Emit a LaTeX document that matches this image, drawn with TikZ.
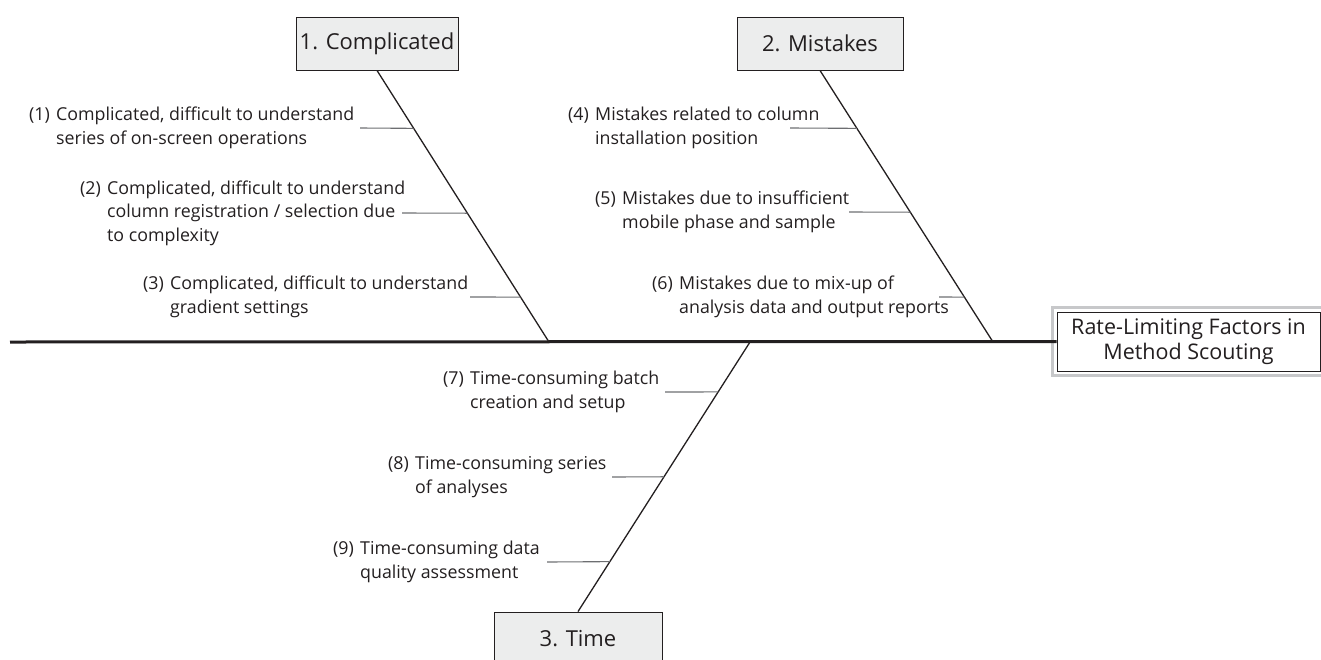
\documentclass[tikz,border=0pt]{standalone}
\usepackage{fontspec}
\setmainfont{Open Sans}
\usetikzlibrary{calc}
\definecolor{ink}{HTML}{231F20}
\definecolor{boxfill}{HTML}{ECEDED}
\definecolor{tickgray}{HTML}{6D6E71}
\definecolor{framegray}{HTML}{C7C8CA}
\newcommand{\hangtab}[2]{\begin{tabular}{@{}l@{}l@{}}\makebox[27pt][l]{#1} & #2\end{tabular}}
\begin{document}
\begin{tikzpicture}[x=1pt,y=-1pt,
  catbox/.style={draw=ink, fill=boxfill, line width=0.9pt, text=ink, inner sep=0pt,
    font=\fontsize{22}{26}\selectfont},
  mainbox/.style={draw=ink, fill=white, line width=0.9pt, text=ink, inner sep=0pt, align=center,
    font=\fontsize{21.5}{25}\selectfont},
  lbl/.style={anchor=west, inner sep=0pt, text=ink, font=\fontsize{17.8}{23.5}\selectfont},
  bone/.style={draw=ink, line width=1.3pt},
  tick/.style={draw=tickgray, line width=1.1pt},
  spine/.style={draw=ink, line width=3pt}]
\useasboundingbox (0,0) rectangle (1321,659);

% main box with grey frame
\node[mainbox, minimum width=263pt, minimum height=59pt] (m) at (1188.5,341.5)
  {Rate-Limiting Factors in\\Method Scouting};
\draw[framegray, line width=2.5pt] ($(m.south west)+(-4,4)$) rectangle ($(m.north east)+(4,-4)$);
\node[mainbox, minimum width=263pt, minimum height=59pt] at (m.center)
  {Rate-Limiting Factors in\\Method Scouting};

% spine
\coordinate (s0) at (10,342);
\draw[spine] (s0) -- (m.west);

% category boxes
\node[catbox, minimum width=162pt, minimum height=53pt] (c1) at (377,43.5) {1. Complicated};
\node[catbox, minimum width=166pt, minimum height=53pt] (c2) at (820,43.5) {2. Mistakes};
\node[catbox, minimum width=168pt, minimum height=54pt] (c3) at (578,639) {3. Time};

% junctions on spine
\coordinate (j1) at (549,342);
\coordinate (j2) at (993,342);
\coordinate (j3) at (750,342);

\draw[bone] (c1.south) -- (j1);
\draw[bone] (c2.south) -- (j2);
\draw[bone] (c3.north) -- (j3);

% tick end points on the bones
\coordinate (e1) at ($(c1.south)!0.2132!(j1)$);
\coordinate (e2) at ($(c1.south)!0.5257!(j1)$);
\coordinate (e3) at ($(c1.south)!0.8346!(j1)$);
\coordinate (e4) at ($(c2.south)!0.2132!(j2)$);
\coordinate (e5) at ($(c2.south)!0.5220!(j2)$);
\coordinate (e6) at ($(c2.south)!0.8346!(j2)$);
\coordinate (e7) at ($(c3.north)!0.8148!(j3)$);
\coordinate (e8) at ($(c3.north)!0.5000!(j3)$);
\coordinate (e9) at ($(c3.north)!0.1852!(j3)$);

% tick start points
\coordinate (t1) at (360,128);
\coordinate (t2) at (402,213);
\coordinate (t3) at (470,297);
\coordinate (t4) at (790,128);
\coordinate (t5) at (849,212);
\coordinate (t6) at (939,297);
\coordinate (t7) at (665,392);
\coordinate (t8) at (612,477);
\coordinate (t9) at (547,562);

\foreach \i in {1,...,9} {\draw[tick] (t\i) -- (e\i);}

% labels
\node[lbl] (l1) at (29,128) {\hangtab{(1)}{Complicated, difficult to understand\\ & series of on-screen operations}};
\node[lbl] (l2) at (80,213) {\hangtab{(2)}{Complicated, difficult to understand\\ & column registration / selection due\\ & to complexity}};
\node[lbl] (l3) at (143,297) {\hangtab{(3)}{Complicated, difficult to understand\\ & gradient settings}};
\node[lbl] (l4) at (568,128) {\hangtab{(4)}{Mistakes related to column\\ & installation position}};
\node[lbl] (l5) at (595,212) {\hangtab{(5)}{Mistakes due to insufficient\\ & mobile phase and sample}};
\node[lbl] (l6) at (652,297) {\hangtab{(6)}{Mistakes due to mix-up of\\ & analysis data and output reports}};
\node[lbl] (l7) at (443,392) {\hangtab{(7)}{Time-consuming batch\\ & creation and setup}};
\node[lbl] (l8) at (388,477) {\hangtab{(8)}{Time-consuming series\\ & of analyses}};
\node[lbl] (l9) at (333,562) {\hangtab{(9)}{Time-consuming data\\ & quality assessment}};
\end{tikzpicture}
\end{document}
